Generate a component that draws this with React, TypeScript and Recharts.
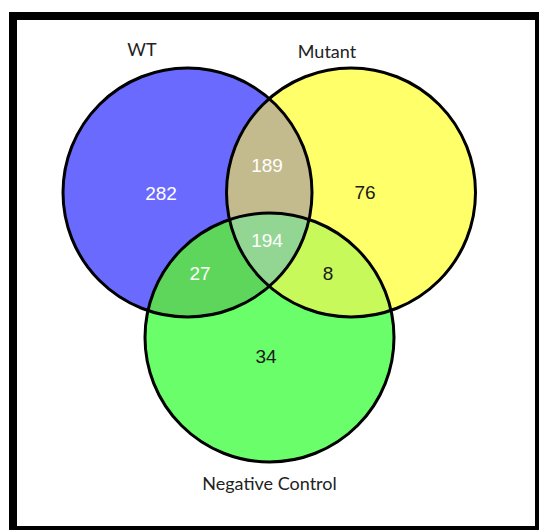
import React from 'react';
import { ScatterChart, Scatter, XAxis, YAxis } from 'recharts';

// ---- Data (Venn layout coordinates: chart units) ----
const setNames = ['WT', 'Mutant', 'Negative Control'];
const setCenterX = [187.5, 351, 269.5];
const setCenterY = [192.5, 192.5, 337.5];
const setRadius = [124.5, 124.5, 124.5];

const setLabelX = [142, 327, 269.5];
const setLabelY = [49, 51, 483];

// region counts
const regionNames = ['WT only', 'Mutant only', 'Negative only', 'WT∩Mutant', 'WT∩Negative', 'Mutant∩Negative', 'All three'];
const regionCounts = [282, 76, 34, 189, 27, 8, 194];
const regionX = [161, 365, 266, 267, 200, 328, 267];
const regionY = [193, 192, 356, 165, 273, 273, 240];

// intersections: which set circle is drawn, clipped by which sets
const overlapBase = [1, 2, 2, 2];
const overlapClips = [[0], [0], [1], [0, 1]];

// ---- Styles ----
const W = 539;
const H = 530;
const X_DOMAIN: [number, number] = [0, 539];
const Y_DOMAIN: [number, number] = [0, 530];
const PX_PER_UNIT = W / (X_DOMAIN[1] - X_DOMAIN[0]);

const setColors = ['#6a6aff', '#ffff6a', '#6aff6a'];
const overlapColors = ['#c3bb8d', '#5ed65c', '#c8f95a', '#93d693'];
const regionTextColors = ['#ffffff', '#1a1a1a', '#1a1a1a', '#ffffff', '#ffffff', '#1a1a1a', '#ffffff'];

const circleData = setNames.map((name, i) => ({
  name,
  x: setCenterX[i],
  y: setCenterY[i],
  r: setRadius[i],
  idx: i,
}));

const overlapData = overlapBase.map((b, i) => ({
  x: setCenterX[b],
  y: setCenterY[b],
  r: setRadius[b],
  clips: overlapClips[i],
  color: overlapColors[i],
}));

const setLabelData = setNames.map((name, i) => ({ name, x: setLabelX[i], y: setLabelY[i] }));

const regionData = regionNames.map((name, i) => ({
  name,
  count: regionCounts[i],
  x: regionX[i],
  y: regionY[i],
  color: regionTextColors[i],
}));

const FillShape = (props: any) => {
  const { cx, cy, payload } = props;
  const r = payload.r * PX_PER_UNIT;
  return (
    <g>
      <defs>
        <clipPath id={`venn-clip-${payload.idx}`}>
          <circle cx={cx} cy={cy} r={r} />
        </clipPath>
      </defs>
      <circle cx={cx} cy={cy} r={r} fill={setColors[payload.idx]} />
    </g>
  );
};

const OverlapShape = (props: any) => {
  const { cx, cy, payload } = props;
  const r = payload.r * PX_PER_UNIT;
  let node: React.ReactNode = <circle cx={cx} cy={cy} r={r} fill={payload.color} />;
  for (const c of payload.clips) {
    node = <g clipPath={`url(#venn-clip-${c})`}>{node}</g>;
  }
  return <g>{node}</g>;
};

const OutlineShape = (props: any) => {
  const { cx, cy, payload } = props;
  const r = payload.r * PX_PER_UNIT;
  return <circle cx={cx} cy={cy} r={r} fill="none" stroke="#000" strokeWidth={3} />;
};

const SetLabelShape = (props: any) => {
  const { cx, cy, payload } = props;
  return (
    <text x={cx} y={cy} textAnchor="middle" dominantBaseline="central" fontFamily="Lato, 'Open Sans', sans-serif" fontSize={18} fill="#222">
      {payload.name}
    </text>
  );
};

const RegionLabelShape = (props: any) => {
  const { cx, cy, payload } = props;
  return (
    <text x={cx} y={cy} textAnchor="middle" dominantBaseline="central" fontFamily="'Liberation Sans', Arial, sans-serif" fontSize={19} fill={payload.color}>
      {payload.count}
    </text>
  );
};

export default function App() {
  return (
    <div style={{ position: 'absolute', left: 0, top: 0, width: W, height: H, overflow: 'hidden', background: '#fff' }}>
      <div style={{ position: 'absolute', left: 9, top: 12, width: 534, height: 522, border: '8px solid #000', boxSizing: 'border-box' }} />
      <div style={{ position: 'absolute', left: 0, top: 0 }}>
        <ScatterChart width={W} height={H} margin={{ top: 0, right: 0, bottom: 0, left: 0 }}>
          <XAxis type="number" dataKey="x" domain={X_DOMAIN} hide />
          <YAxis type="number" dataKey="y" domain={Y_DOMAIN} reversed hide />
          <Scatter data={circleData} shape={FillShape} isAnimationActive={false} />
          <Scatter data={overlapData} shape={OverlapShape} isAnimationActive={false} />
          <Scatter data={circleData} shape={OutlineShape} isAnimationActive={false} />
          <Scatter data={setLabelData} shape={SetLabelShape} isAnimationActive={false} />
          <Scatter data={regionData} shape={RegionLabelShape} isAnimationActive={false} />
        </ScatterChart>
      </div>
    </div>
  );
}
